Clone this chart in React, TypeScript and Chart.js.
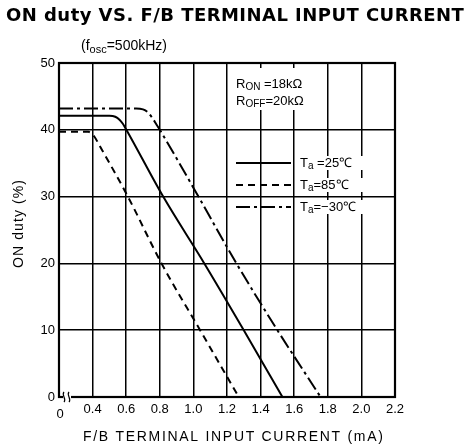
import React, { useEffect, useRef } from "react";
import { Chart, registerables } from "chart.js";
Chart.register(...registerables);

// tick values (0.2 position represents the broken axis origin "0")
const xTickValues = [0.2, 0.4, 0.6, 0.8, 1.0, 1.2, 1.4, 1.6, 1.8, 2.0, 2.2];
const yTickValues = [0, 10, 20, 30, 40, 50];

// Ta = 25 C (solid)
const current25 = [0, 0.5, 0.535, 0.56, 0.58, 0.6, 0.82, 1.065, 1.3, 1.53];
const duty25 = [42.1, 42.1, 41.95, 41.5, 40.9, 40.05, 30, 20, 10, 0];
// Ta = 85 C (dashed)
const current85 = [0, 0.35, 0.38, 0.41, 0.44, 0.61, 0.81, 1.04, 1.27];
const duty85 = [39.7, 39.7, 39.5, 39.0, 37.7, 30, 20, 10, 0];
// Ta = -30 C (dash-dot)
const currentM30 = [0, 0.66, 0.7, 0.73, 0.755, 0.78, 0.8, 1.03, 1.256, 1.5, 1.757];
const dutyM30 = [43.2, 43.2, 43.05, 42.6, 41.8, 40.8, 40, 30, 20, 10, 0];

const seriesLabels = [" =25℃", "=85℃", "=−30℃"];

// broken axis: real 0..0.4 mA is squeezed into axis range 0.2..0.4
const axisPos = (x: number) => (x < 0.4 ? 0.2 + x * 0.5 : x);
const toPoints = (xs: number[], ys: number[]) => xs.map((x, i) => ({ x: axisPos(x), y: ys[i] }));

const FONT = "'Liberation Sans', Arial, sans-serif";

type Seg = { t: string; sub?: boolean };

function drawRich(ctx: CanvasRenderingContext2D, segs: Seg[], x: number, y: number, size: number, weight = "normal") {
  let cx = x;
  ctx.textBaseline = "middle";
  ctx.textAlign = "left";
  for (const s of segs) {
    const fs = s.sub ? Math.round(size * 0.8) : size;
    ctx.font = `${weight} ${fs}px ${FONT}`;
    ctx.fillText(s.t, cx, s.sub ? y + size * 0.28 : y);
    cx += ctx.measureText(s.t).width;
  }
  return cx - x;
}

function drawFit(ctx: CanvasRenderingContext2D, text: string, cx: number, cy: number, width: number, font: string) {
  ctx.font = font;
  (ctx as any).letterSpacing = "0px";
  const w = ctx.measureText(text).width;
  const ls = (width - w) / Math.max(1, text.length - 1);
  (ctx as any).letterSpacing = `${ls.toFixed(2)}px`;
  ctx.textAlign = "left";
  ctx.textBaseline = "middle";
  ctx.fillText(text, cx - width / 2, cy);
  (ctx as any).letterSpacing = "0px";
}

const decorPlugin = {
  id: "decor",
  afterDraw(chart: any) {
    const ctx: CanvasRenderingContext2D = chart.ctx;
    const area = chart.chartArea;
    ctx.save();
    ctx.fillStyle = "#000";
    ctx.strokeStyle = "#000";

    // white boxes behind annotations (gridlines hidden there)
    ctx.fillStyle = "#fff";
    ctx.fillRect(232, 68, 80, 42);
    [163, 185, 207].forEach((y) => ctx.fillRect(297, y - 7, 66, 14));
    ctx.fillStyle = "#000";

    // frame
    ctx.lineWidth = 2.2;
    ctx.strokeRect(area.left, area.top, area.right - area.left, area.bottom - area.top);

    // axis break mark near origin
    const bx = area.left + 7;
    const by = area.bottom;
    ctx.fillStyle = "#fff";
    ctx.fillRect(bx - 3, by - 2, 8, 4);
    ctx.fillStyle = "#000";
    ctx.lineWidth = 1.2;
    for (const dx of [-2, 3]) {
      ctx.beginPath();
      ctx.moveTo(bx + dx, by - 5);
      ctx.bezierCurveTo(bx + dx - 3, by - 2, bx + dx + 3, by + 2, bx + dx, by + 5);
      ctx.stroke();
    }

    // origin label of broken axis
    ctx.font = `13px ${FONT}`;
    ctx.textAlign = "center";
    ctx.textBaseline = "middle";
    ctx.fillText("0", area.left + 1, 414);

    // title
    drawFit(ctx, "ON duty VS. F/B TERMINAL INPUT CURRENT", 235, 16, 458, `bold 18px 'DejaVu Sans', ${FONT}`);
    // subtitle
    drawRich(ctx, [{ t: "(f" }, { t: "osc", sub: true }, { t: "=500kHz)" }], 81, 46, 14);

    // axis titles
    drawFit(ctx, "F/B TERMINAL INPUT CURRENT (mA)", 233, 437, 300, `14px ${FONT}`);
    ctx.save();
    ctx.translate(19, 224);
    ctx.rotate(-Math.PI / 2);
    drawFit(ctx, "ON duty (%)", 0, 0, 88, `14px ${FONT}`);
    ctx.restore();

    // resistor labels
    const rl = [
      [{ t: "R" }, { t: "ON", sub: true }, { t: " =18kΩ" }],
      [{ t: "R" }, { t: "OFF", sub: true }, { t: "=20kΩ" }],
    ] as Seg[][];
    rl.forEach((segs, i) => {
      drawRich(ctx, segs, 236, 84 + i * 17, 13);
    });

    // legend
    const dashes = [[], [7, 5], [14, 4, 3, 4]];
    const ys = [163, 185, 207];
    ys.forEach((y, i) => {
      ctx.setLineDash(dashes[i]);
      ctx.lineWidth = 2;
      ctx.beginPath();
      ctx.moveTo(236, y);
      ctx.lineTo(291, y);
      ctx.stroke();
      ctx.setLineDash([]);
      drawRich(ctx, [{ t: "T" }, { t: "a", sub: true }, { t: seriesLabels[i] }], 300, y, 13);
    });
    ctx.restore();
  },
};

export default function App() {
  const ref = useRef<HTMLCanvasElement>(null);
  useEffect(() => {
    const ds = (data: any[], dash: number[]) => ({
      data,
      borderColor: "#000",
      borderWidth: 2,
      borderDash: dash,
      pointRadius: 0,
      fill: false,
      cubicInterpolationMode: "monotone" as const,
    });
    const chart = new Chart(ref.current!, {
      type: "line",
      data: {
        datasets: [
          ds(toPoints(current25, duty25), []),
          ds(toPoints(current85, duty85), [7, 5]),
          ds(toPoints(currentM30, dutyM30), [14, 4, 3, 4]),
        ],
      },
      options: {
        responsive: false,
        animation: false,
        layout: { padding: { left: 0, right: 74, top: 63, bottom: 0 } },
        plugins: { legend: { display: false }, tooltip: { enabled: false }, title: { display: false } },
        scales: {
          x: {
            type: "linear",
            min: 0.2,
            max: 2.2,
            afterFit: (s: any) => { s.height = 48; },
            afterBuildTicks: (s: any) => { s.ticks = xTickValues.map((v) => ({ value: v })); },
            ticks: {
              color: "#000",
              padding: 5,
              maxRotation: 0,
              autoSkip: false,
              font: { family: FONT, size: 13 },
              callback: (v: any) => (Math.abs(Number(v) - 0.2) < 1e-6 ? "" : Number(v).toFixed(1)),
            },
            grid: { color: "#000", lineWidth: 1.5, drawTicks: false },
            border: { display: true, color: "#000", width: 2 },
          },
          y: {
            type: "linear",
            min: 0,
            max: 50,
            afterFit: (s: any) => { s.width = 59; },
            afterBuildTicks: (s: any) => { s.ticks = yTickValues.map((v) => ({ value: v })); },
            ticks: { color: "#000", padding: 4, font: { family: FONT, size: 13 } },
            grid: { color: "#000", lineWidth: 1.5, drawTicks: false },
            border: { display: true, color: "#000", width: 2 },
          },
        },
      },
      plugins: [decorPlugin],
    });
    return () => chart.destroy();
  }, []);
  return (
    <div style={{ position: "absolute", left: 0, top: 0, width: 469, height: 445, background: "#fff" }}>
      <canvas ref={ref} width={469} height={445} style={{ width: 469, height: 445 }} />
    </div>
  );
}
